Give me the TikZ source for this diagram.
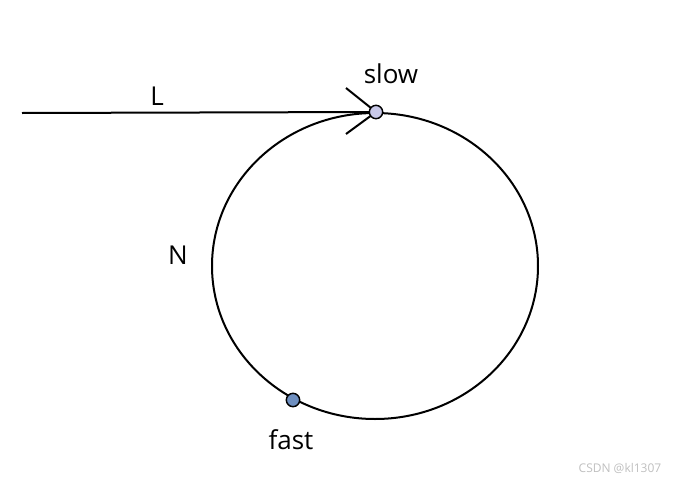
\documentclass[tikz,border=0pt]{standalone}
\usepackage{fontspec}
\setmainfont{Open Sans}
\usepackage{xcolor}
\definecolor{slowfill}{RGB}{200,200,232}
\definecolor{fastfill}{RGB}{110,143,192}
\tikzset{
  lbl/.style={inner sep=0pt,font=\fontsize{19.5}{23}\selectfont},
  dot/.style={circle,draw=black,line width=1.1pt,minimum size=10pt,inner sep=0pt},
}
\begin{document}
\begin{tikzpicture}[x=0.75pt,y=-0.75pt,line width=1.5pt]
  \useasboundingbox (0,0) rectangle (676,482);
  % loop
  \draw (375,266) ellipse [x radius=163,y radius=153];
  % tail and meeting point
  \coordinate (start) at (22,113);
  \coordinate (meet) at (376,112);
  \coordinate (tipA) at (346,88);
  \coordinate (tipB) at (346,134);
  \draw (start) -- (meet);
  \draw (tipA) -- (meet);
  \draw (tipB) -- (meet);
  \node[dot,fill=slowfill] (slow) at (meet) {};
  \node[dot,fill=fastfill] (fast) at (293,400) {};
  % labels
  \node[lbl] (labL) at (157,96) {L};
  \node[lbl] (labslow) at (391,74) {slow};
  \node[lbl] (labN) at (178,255) {N};
  \node[lbl] (labfast) at (291,440) {fast};
  \node[inner sep=0pt,text=black!25,font=\fontsize{9}{11}\selectfont] (mark) at (620,468) {CSDN @kl1307};
\end{tikzpicture}
\end{document}
